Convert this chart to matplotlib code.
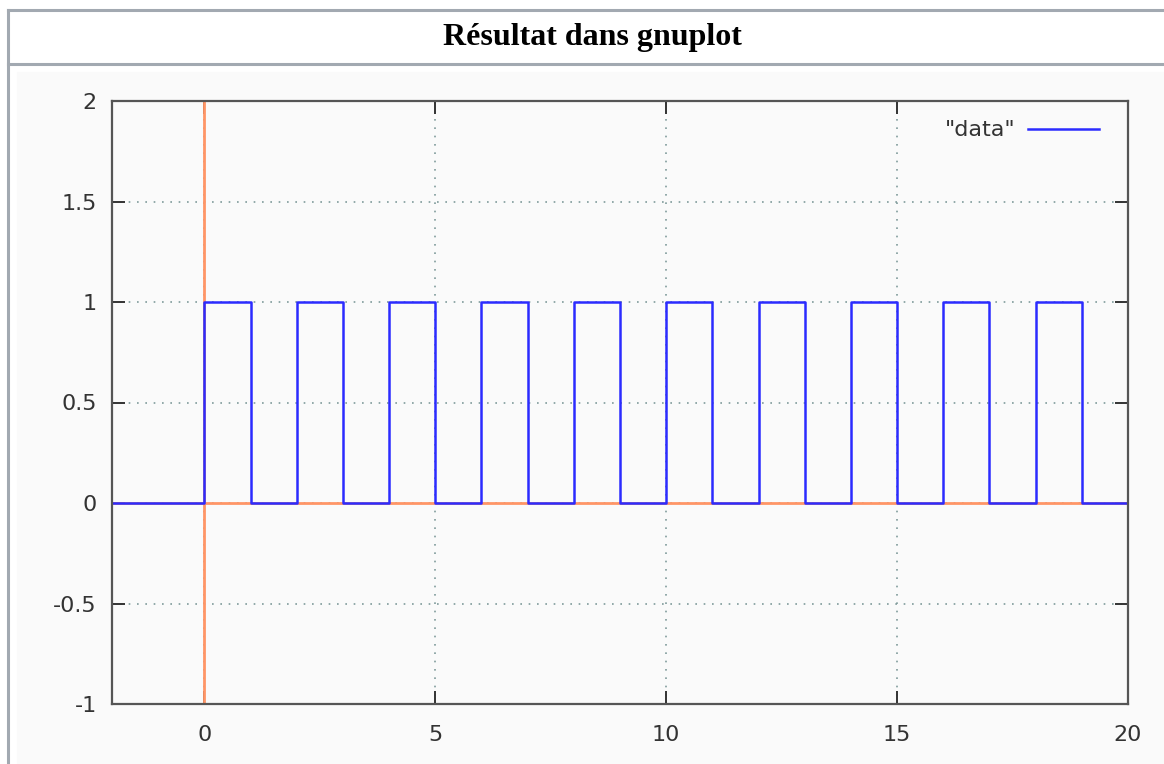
import numpy as np
import matplotlib
matplotlib.use("Agg")
import matplotlib.pyplot as plt
from matplotlib.lines import Line2D
from matplotlib.patches import Rectangle
from matplotlib.ticker import FormatStrFormatter

# square wave sampled at its switching instants (step, held until next t)
t = [-2, 0, 1, 2, 3, 4, 5, 6, 7, 8, 9, 10, 11, 12, 13, 14, 15, 16, 17, 18, 19, 20]
level = [0, 1, 0, 1, 0, 1, 0, 1, 0, 1, 0, 1, 0, 1, 0, 1, 0, 1, 0, 1, 0, 0]

x_ticks = [0, 5, 10, 15, 20]
y_ticks = [-1, -0.5, 0, 0.5, 1, 1.5, 2]

header = "Résultat dans gnuplot"
series_label = '"data"'

W, H = 1164, 764
fig = plt.figure(figsize=(W / 100, H / 100), dpi=100)
fig.patch.set_facecolor("white")


def fx(px):
    return px / W


def fy(py):
    return 1 - py / H


# table cell frame and header
border = "#a2a9b1"
fig.add_artist(Rectangle((fx(17), fy(764)), fx(W - 17), fy(72) - fy(764),
                         transform=fig.transFigure, color="#fafafa", zorder=0))
fig.add_artist(Line2D([fx(8), fx(8)], [fy(10), fy(764)], color=border, lw=2.2))
fig.add_artist(Line2D([fx(8), 1], [fy(10), fy(10)], color=border, lw=2.2))
fig.add_artist(Line2D([fx(8), 1], [fy(64), fy(64)], color=border, lw=2.2))
fig.text(fx(592), fy(38), header, ha="center", va="center",
         family="Liberation Serif", fontweight="bold", fontsize=23, color="black")

# plot area
ax = fig.add_axes([fx(112), fy(704), fx(1128) - fx(112), fy(101) - fy(704)])
ax.set_facecolor("#fafafa")

ax.axvline(0, color="#ff9566", lw=2, zorder=2)
ax.axhline(0, color="#ff9566", lw=2, zorder=2)
ax.step(t, level, where="post", color="#2b2bff", lw=1.8, zorder=3,
        label=series_label)

ax.set_xlim(-2, 20)
ax.set_ylim(-1, 2)
ax.set_xticks(x_ticks)
ax.set_yticks(y_ticks)
ax.yaxis.set_major_formatter(FormatStrFormatter("%g"))

ax.grid(True, color="#7f9a9a", linestyle=(0, (1, 4)), lw=1.2, zorder=1)
ax.tick_params(direction="in", length=9.5, width=1.4, color="#333333",
               top=True, right=True, labelsize=16, labelcolor="#333333")
ax.tick_params(axis="y", pad=11)
ax.tick_params(axis="x", pad=15)
for s in ax.spines.values():
    s.set_color("#555555")
    s.set_linewidth(1.6)
    s.set_zorder(4)

# key in the top right corner, sample line after the title
leg = ax.legend(loc="upper right", bbox_to_anchor=(0.9715, 0.968),
                frameon=False, fontsize=16, markerfirst=False,
                handlelength=3.2, handletextpad=0.55,
                borderpad=0, borderaxespad=0)
for txt in leg.get_texts():
    txt.set_color("#333333")

fig.savefig("out.png", dpi=100)
